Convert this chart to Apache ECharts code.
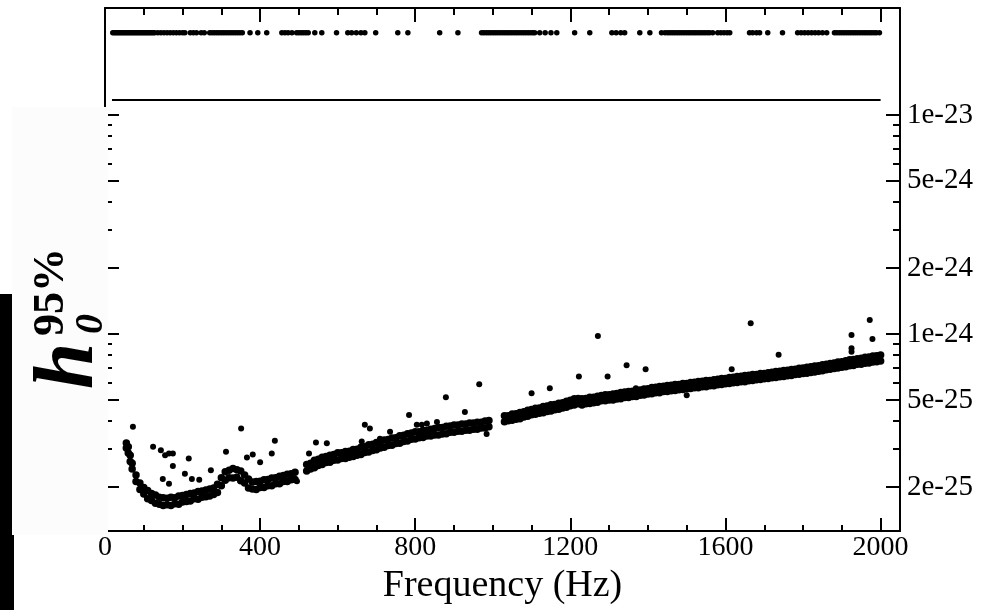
<!DOCTYPE html>
<html>
<head>
<meta charset="utf-8">
<script src="https://cdn.jsdelivr.net/npm/echarts@6/dist/echarts.min.js"></script>
<style>
  html, body { margin: 0; padding: 0; background: #fff; }
  #main { width: 982px; height: 610px; }
</style>
</head>
<body>
<div id="main"></div>
<script>
  // frequency (Hz) of the main band samples
  const bandFreq = [
    55, 60, 65, 70, 80, 90, 100, 110, 120, 130, 140, 150, 160, 170, 180, 190, 200, 210, 220, 230,
    240, 250, 260, 270, 280, 290, 300, 310, 320, 330, 340, 350, 360, 370, 380, 390, 400, 410, 420, 430,
    440, 450, 460, 470, 480, 490,
    520, 530, 540, 550, 560, 570, 580, 590, 600, 610, 620, 630, 640, 650, 660, 670, 680, 690, 700, 710,
    720, 730, 740, 750, 760, 770, 780, 790, 800, 810, 820, 830, 840, 850, 860, 870, 880, 890, 900, 910,
    920, 930, 940, 950, 960, 970, 980, 990,
    1030, 1040, 1050, 1060, 1070, 1080, 1090, 1100, 1110, 1120, 1130, 1140, 1150, 1160, 1170, 1180, 1190, 1200,
    1210, 1220, 1230, 1240, 1250, 1260, 1270, 1280, 1290, 1300, 1310, 1320, 1330, 1340, 1350, 1360, 1370, 1380,
    1390, 1400, 1410, 1420, 1430, 1440, 1450, 1460, 1470, 1480, 1490, 1500, 1510, 1520, 1530, 1540, 1550, 1560,
    1570, 1580, 1590, 1600, 1610, 1620, 1630, 1640, 1650, 1660, 1670, 1680, 1690, 1700, 1710, 1720, 1730, 1740,
    1750, 1760, 1770, 1780, 1790, 1800, 1810, 1820, 1830, 1840, 1850, 1860, 1870, 1880, 1890, 1900, 1910, 1920,
    1930, 1940, 1950, 1960, 1970, 1980, 1990, 2000
  ]
  // lower / upper edge of the band, h0 in units of 1e-25
  const bandLow = [
    3.02, 2.86, 2.62, 2.42, 2.12, 1.95, 1.86, 1.77, 1.74, 1.69, 1.67, 1.65, 1.66, 1.65, 1.68, 1.67, 1.71, 1.72, 1.73, 1.77,
    1.76, 1.8, 1.81, 1.82, 1.85, 1.89, 2.03, 2.15, 2.21, 2.2, 2.22, 2.14, 2.09, 1.98, 1.96, 1.95, 1.99, 1.99, 2.03, 2.03,
    2.07, 2.07, 2.12, 2.12, 2.16, 2.17,
    2.37, 2.42, 2.45, 2.51, 2.54, 2.59, 2.6, 2.65, 2.66, 2.7, 2.7, 2.74, 2.76, 2.8, 2.82, 2.88, 2.89, 2.94, 2.96, 3.02,
    3.04, 3.1, 3.11, 3.16, 3.17, 3.23, 3.25, 3.31, 3.32, 3.36, 3.37, 3.42, 3.42, 3.46, 3.46, 3.5, 3.51, 3.56, 3.56, 3.6,
    3.6, 3.64, 3.64, 3.68, 3.68, 3.72, 3.72, 3.77,
    3.98, 4.02, 4.04, 4.08, 4.1, 4.18, 4.21, 4.28, 4.3, 4.35, 4.37, 4.43, 4.45, 4.51, 4.53, 4.59, 4.63, 4.7,
    4.74, 4.8, 4.74, 4.8, 4.82, 4.86, 4.88, 4.96, 4.96, 5.0, 5.0, 5.05, 5.07, 5.13, 5.13, 5.18, 5.19, 5.25,
    5.27, 5.33, 5.34, 5.39, 5.4, 5.46, 5.46, 5.51, 5.52, 5.57, 5.58, 5.63, 5.64, 5.68, 5.69, 5.74, 5.75, 5.8,
    5.81, 5.87, 5.88, 5.93, 5.95, 5.99, 6.0, 6.05, 6.06, 6.12, 6.13, 6.18, 6.2, 6.25, 6.26, 6.32, 6.33, 6.38,
    6.39, 6.45, 6.47, 6.53, 6.55, 6.61, 6.62, 6.68, 6.7, 6.77, 6.8, 6.87, 6.9, 6.96, 6.99, 7.06, 7.09, 7.17,
    7.19, 7.27, 7.28, 7.36, 7.38, 7.46, 7.48, 7.54
  ]
  const bandHigh = [
    3.18, 3.06, 2.8, 2.57, 2.27, 2.09, 1.99, 1.93, 1.87, 1.84, 1.8, 1.79, 1.78, 1.8, 1.79, 1.82, 1.83, 1.85, 1.87, 1.88,
    1.91, 1.92, 1.94, 1.96, 1.98, 2.06, 2.21, 2.35, 2.39, 2.43, 2.4, 2.37, 2.27, 2.18, 2.11, 2.12, 2.13, 2.16, 2.17, 2.2,
    2.21, 2.24, 2.26, 2.29, 2.3, 2.34,
    2.54, 2.57, 2.65, 2.68, 2.74, 2.76, 2.8, 2.82, 2.87, 2.87, 2.91, 2.92, 2.97, 2.98, 3.04, 3.06, 3.12, 3.14, 3.2, 3.22,
    3.28, 3.3, 3.35, 3.36, 3.43, 3.45, 3.51, 3.53, 3.58, 3.58, 3.63, 3.64, 3.68, 3.7, 3.74, 3.74, 3.79, 3.8, 3.84, 3.84,
    3.88, 3.88, 3.92, 3.92, 3.96, 3.96, 4.01, 4.03,
    4.23, 4.24, 4.31, 4.32, 4.38, 4.42, 4.49, 4.52, 4.58, 4.59, 4.67, 4.69, 4.75, 4.77, 4.83, 4.85, 4.93, 4.98,
    5.06, 5.08, 5.06, 5.08, 5.14, 5.14, 5.2, 5.24, 5.28, 5.28, 5.32, 5.35, 5.41, 5.43, 5.47, 5.48, 5.53, 5.55,
    5.61, 5.63, 5.7, 5.71, 5.76, 5.78, 5.82, 5.83, 5.88, 5.89, 5.94, 5.95, 6.0, 6.02, 6.07, 6.08, 6.13, 6.14,
    6.19, 6.21, 6.26, 6.27, 6.33, 6.35, 6.4, 6.41, 6.46, 6.48, 6.53, 6.54, 6.6, 6.61, 6.66, 6.69, 6.75, 6.76,
    6.81, 6.83, 6.89, 6.91, 6.97, 6.99, 7.06, 7.08, 7.14, 7.17, 7.24, 7.27, 7.34, 7.38, 7.45, 7.48, 7.55, 7.62,
    7.66, 7.72, 7.76, 7.83, 7.86, 7.93, 7.96, 8.02
  ]
  // scattered points off the band (Hz, units of 1e-25)
  const outlierFreq = [
    72, 124, 144, 155, 165, 175, 216, 175, 149, 165, 206, 224, 243, 273, 312, 351, 366, 381, 400, 430,
    438, 495, 526, 544, 572, 662, 670, 683, 709, 735, 784, 804, 817, 830, 856, 879, 928, 965, 984, 1100,
    1147, 1222, 1271, 1296, 1345, 1394, 1369, 1500, 1616, 1665, 1737, 1925, 1925, 1925, 1972, 1979
  ]
  const outlierH = [
    3.77, 3.06, 2.95, 2.8, 2.85, 2.85, 2.7, 2.5, 2.18, 2.07, 2.3, 2.18, 2.16, 2.39, 2.9, 3.7, 2.73, 2.82, 2.6, 2.85,
    3.26, 2.13, 2.85, 3.2, 3.17, 3.23, 3.85, 3.7, 3.33, 3.58, 4.27, 3.85, 3.85, 3.9, 3.97, 5.15, 4.4, 5.9, 3.5, 5.37,
    5.65, 6.4, 9.8, 6.4, 7.2, 6.9, 5.65, 5.25, 6.9, 11.2, 8.05, 9.9, 8.6, 8.3, 11.6, 9.5
  ]
  // frequencies marked in the top strip
  const topMarkFreq = [
    20, 24, 28, 32, 36, 40, 44, 48, 52, 56, 60, 64, 68, 72, 76, 80, 84, 88, 92, 96, 100, 104, 108, 112, 116, 120, 124, 128,
    136, 144, 152, 160, 168, 176, 184, 192, 200, 206,
    220, 228, 236, 248, 256,
    270, 276, 282, 288, 294, 300, 306, 312, 318, 324, 330, 336, 342, 348, 354,
    374, 394, 417,
    456, 464, 472, 482, 494, 500, 506, 512, 518, 524,
    541, 559, 597, 626, 636, 648, 660, 670, 698, 755, 781, 863, 910,
    971, 977, 983, 989, 995, 1001, 1007, 1013, 1019, 1025, 1031, 1037, 1043, 1049, 1055, 1061, 1067, 1073, 1079,
    1085, 1091, 1097, 1103, 1108,
    1121, 1135, 1150, 1165, 1211, 1250, 1307, 1318, 1330, 1340, 1379, 1405,
    1435, 1444, 1451, 1457, 1463, 1469, 1475, 1481, 1487, 1493, 1499, 1505, 1511, 1517, 1523, 1529, 1535, 1541,
    1547, 1553, 1559, 1567, 1580, 1588, 1596, 1604, 1611,
    1662, 1670, 1680, 1688, 1709, 1747,
    1786, 1795, 1804, 1813, 1822, 1831, 1840, 1850, 1861,
    1881, 1887, 1893, 1899, 1905, 1911, 1917, 1923, 1929, 1935, 1941, 1947, 1953, 1959, 1965, 1971, 1977, 1983, 1989, 1997
  ]
  const topLineFreq = [18, 2000]

  const xMajorTicks = [0, 400, 800, 1200, 1600, 2000]
  const xMinorTicks = [100, 200, 300, 500, 600, 700, 900, 1000, 1100, 1300, 1400, 1500, 1700, 1800, 1900]
  const yMajorTicks = [2e-25, 5e-25, 1e-24, 2e-24, 5e-24, 1e-23]
  const yMinorTicks = [3e-25, 4e-25, 6e-25, 7e-25, 8e-25, 9e-25, 3e-24, 4e-24, 6e-24, 7e-24, 8e-24, 9e-24]
  const yMin = 1.26e-25
  const yMax = 1.17e-23

  const E25 = 1e-25
  const SERIF = '"Liberation Serif", "DejaVu Serif", serif'

  const bandData = []
  bandFreq.forEach((f, i) => {
    bandData.push([f, bandLow[i] * E25])
    bandData.push([f, bandHigh[i] * E25])
  })
  const outlierData = outlierFreq.map((f, i) => [f, outlierH[i] * E25])
  const topData = topMarkFreq.map(f => [f, 0.73])
  const lineData = topLineFreq.map(f => [f, 0])

  const chart = echarts.init(document.getElementById('main'))

  const black = { color: '#000', width: 2 }
  const xBase = { type: 'value', min: 0, max: 2050, splitLine: { show: false } }
  // the data axis (log scale)
  const yLog = { type: 'log', logBase: 10, min: yMin, max: yMax, gridIndex: 1, splitLine: { show: false } }
  // tick-only axes laid over the log axis, in decades
  const yDec = {
    type: 'value', gridIndex: 1, min: Math.log10(yMin), max: Math.log10(yMax),
    splitLine: { show: false }, axisLine: { show: false, onZero: false },
  }
  const dec = arr => arr.map(v => Math.log10(v))

  const option = {
    animation: false,
    backgroundColor: '#fff',
    grid: [
      { left: 105, right: 82, top: 8, height: 92 },
      { left: 105, right: 82, top: 100, bottom: 73 },
    ],
    xAxis: [
      {
        ...xBase, gridIndex: 0, position: 'top',
        axisLine: { onZero: false, lineStyle: black },
        axisTick: { inside: true, length: 14, lineStyle: black, customValues: xMajorTicks },
        axisLabel: { show: false },
      },
      {
        ...xBase, gridIndex: 0, position: 'top',
        axisLine: { show: false, onZero: false },
        axisTick: { inside: true, length: 7, lineStyle: black, customValues: xMinorTicks },
        axisLabel: { show: false },
      },
      {
        ...xBase, gridIndex: 1, position: 'bottom',
        axisLine: { onZero: false, lineStyle: black },
        axisTick: { inside: true, length: 13, lineStyle: black, customValues: xMajorTicks },
        axisLabel: {
          customValues: xMajorTicks, color: '#000', fontFamily: SERIF, fontSize: 28, margin: 3,
          formatter: v => String(v),
        },
        name: 'Frequency (Hz)',
        nameLocation: 'middle',
        nameGap: 28,
        nameTextStyle: { color: '#000', fontFamily: SERIF, fontSize: 38, verticalAlign: 'top' },
      },
      {
        ...xBase, gridIndex: 1, position: 'bottom',
        axisLine: { show: false, onZero: false },
        axisTick: { inside: true, length: 6, lineStyle: black, customValues: xMinorTicks },
        axisLabel: { show: false },
      },
    ],
    yAxis: [
      {
        type: 'value', gridIndex: 0, min: 0, max: 1, position: 'left',
        axisLine: { show: true, onZero: false, lineStyle: black }, axisTick: { show: false },
        axisLabel: { show: false }, splitLine: { show: false },
      },
      {
        type: 'value', gridIndex: 0, min: 0, max: 1, position: 'right',
        axisLine: { show: true, onZero: false, lineStyle: black }, axisTick: { show: false },
        axisLabel: { show: false }, splitLine: { show: false },
      },
      {
        ...yLog, position: 'right',
        axisLine: { show: true, onZero: false, lineStyle: black },
        axisTick: { show: false }, axisLabel: { show: false },
      },
      {
        ...yLog, position: 'left',
        axisLine: { show: true, onZero: false, lineStyle: black },
        axisTick: { show: false }, axisLabel: { show: false },
      },
      {
        ...yDec, position: 'right',
        axisTick: { inside: true, length: 14, lineStyle: black, customValues: dec(yMajorTicks) },
        axisLabel: {
          customValues: dec(yMajorTicks), color: '#000', fontFamily: SERIF, fontSize: 29, margin: 7,
          formatter: v => Math.pow(10, v).toExponential(0),
        },
      },
      {
        ...yDec, position: 'right',
        axisTick: { inside: true, length: 7, lineStyle: black, customValues: dec(yMinorTicks) },
        axisLabel: { show: false },
      },
      {
        ...yDec, position: 'left',
        axisTick: { inside: true, length: 14, lineStyle: black, customValues: dec(yMajorTicks) },
        axisLabel: { show: false },
      },
      {
        ...yDec, position: 'left',
        axisTick: { inside: true, length: 7, lineStyle: black, customValues: dec(yMinorTicks) },
        axisLabel: { show: false },
      },
    ],
    series: [
      {
        type: 'scatter', xAxisIndex: 0, yAxisIndex: 0, data: topData,
        symbolSize: 5.5, itemStyle: { color: '#000', opacity: 1 },
      },
      {
        type: 'line', xAxisIndex: 0, yAxisIndex: 0, data: lineData, clip: false,
        symbol: 'none', lineStyle: { color: '#000', width: 2 },
      },
      {
        type: 'scatter', xAxisIndex: 2, yAxisIndex: 2, data: bandData,
        symbolSize: 7.5, itemStyle: { color: '#000', opacity: 1 },
      },
      {
        type: 'scatter', xAxisIndex: 2, yAxisIndex: 2, data: outlierData,
        symbolSize: 6, itemStyle: { color: '#000', opacity: 1 },
      },
    ],
    graphic: [
      { type: 'rect', z: 100, shape: { x: 12, y: 107, width: 96, height: 428 }, style: { fill: '#fcfcfc' } },
      { type: 'rect', z: 100, shape: { x: 0, y: 294, width: 12, height: 241 }, style: { fill: '#000' } },
      { type: 'rect', z: 100, shape: { x: 0, y: 535, width: 14, height: 75 }, style: { fill: '#000' } },
      {
        type: 'text', z: 101, x: 70, y: 366, rotation: Math.PI / 2,
        style: { text: 'h', font: 'italic bold 84px ' + SERIF, fill: '#000', align: 'center', verticalAlign: 'middle' },
      },
      {
        type: 'text', z: 101, x: 92, y: 324, rotation: Math.PI / 2,
        style: { text: '0', font: 'italic bold 40px ' + SERIF, fill: '#000', align: 'center', verticalAlign: 'middle' },
      },
      {
        type: 'text', z: 101, x: 52, y: 292, rotation: Math.PI / 2,
        style: { text: '95%', font: 'bold 44px ' + SERIF, fill: '#000', align: 'center', verticalAlign: 'middle' },
      },
    ],
  }

  chart.setOption(option)
</script>
</body>
</html>
